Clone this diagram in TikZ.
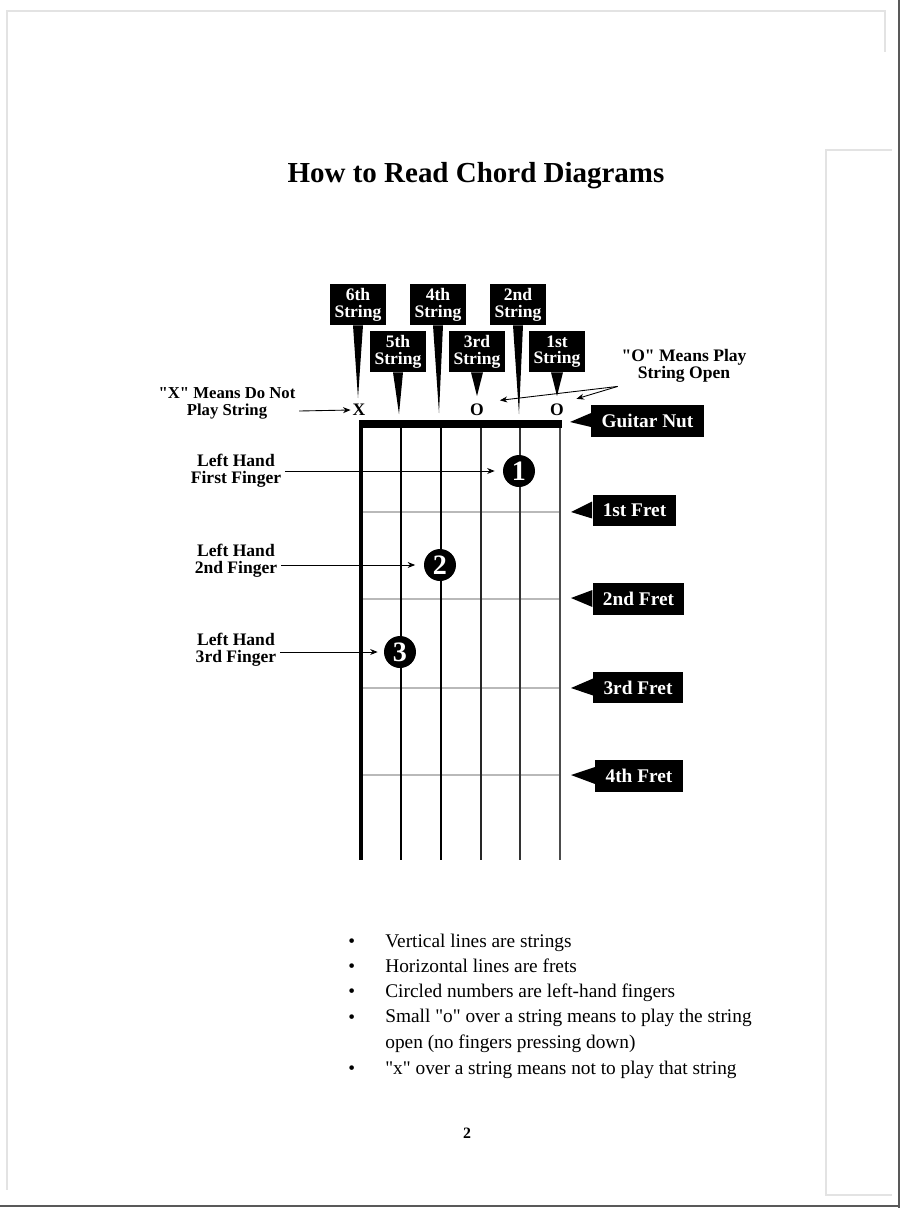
\documentclass[tikz,border=0pt]{standalone}
\usepackage{fontspec}
\setmainfont{Liberation Serif}[Ligatures=TeXOff]
\usetikzlibrary{arrows.meta}

\tikzset{
  tag/.style={fill=black, text=white, font=\bfseries\fontsize{10}{9.5}\selectfont, align=center, inner sep=0pt, minimum width=1.14cm, minimum height=0.82cm},
  fretbox/.style={fill=black, text=white, font=\bfseries\fontsize{11}{12}\selectfont, inner xsep=5.8pt, inner ysep=0pt, minimum height=0.63cm},
  side/.style={font=\bfseries\fontsize{10}{9.7}\selectfont, align=center, inner sep=2pt},
  openmark/.style={font=\bfseries\fontsize{10}{10}\selectfont, inner sep=1pt},
  finger/.style={circle, fill=black, text=white, minimum size=0.64cm, inner sep=0pt, font=\bfseries\fontsize{16}{16}\selectfont},
  arr/.style={-{Stealth[length=1.5mm,width=1.2mm]}, line width=0.5pt},
  bulletline/.style={anchor=base west, font=\fontsize{11}{14.5}\selectfont, inner sep=0pt, align=left},
  scanline/.style={gray!22, line width=0.04cm}
}

\begin{document}
\begin{tikzpicture}[x=0.02cm, y=-0.02cm]
        \useasboundingbox (0,0) rectangle (900,1208);
        % scanned page edges
        \draw[scanline] (7,1190) -- (7,11) -- (885,11) -- (885,52);
        \draw[scanline] (892,150) -- (826,150) -- (826,1195) -- (892,1195);
        \draw[black!65, line width=0.05cm] (0,1206) -- (900,1206);
        \draw[black!65, line width=0.05cm] (899,0) -- (899,1208);

        \node[font=\bfseries\fontsize{16.5}{20}\selectfont, anchor=base] (title) at (476,182) {How to Read Chord Diagrams};

        % frets
        \draw[gray!55, line width=0.035cm] (361,512) -- (560,512);
        \draw[gray!55, line width=0.035cm] (361,599) -- (560,599);
        \draw[gray!55, line width=0.035cm] (361,688) -- (560,688);
        \draw[gray!55, line width=0.035cm] (361,775) -- (560,775);

        % strings and nut
        \draw[line width=1.8pt] (361,424) -- (361,860);
        \draw[line width=1.7pt] (401,424) -- (401,860);
        \draw[line width=1.6pt] (441,424) -- (441,860);
        \draw[line width=1.4pt, black!85] (481,424) -- (481,860);
        \draw[line width=1.3pt, black!80] (520,424) -- (520,860);
        \draw[line width=1.1pt, black!70] (560,424) -- (560,860);
        \draw[line width=0.16cm] (359,424) -- (562,424);

        % string tags
        \node[tag] (s6) at (358,304.5) {6th\\String};
        \node[tag] (s5) at (398,351.5) {5th\\String};
        \node[tag] (s4) at (438,304.5) {4th\\String};
        \node[tag] (s3) at (477,351.5) {3rd\\String};
        \node[tag] (s2) at (518,304.5) {2nd\\String};
        \node[tag] (s1) at (557,351.5) {1st\\String};
        \coordinate (t6) at (358,398);
        \coordinate (t5) at (399,414);
        \coordinate (t4) at (439,413);
        \coordinate (t3) at (477,396);
        \coordinate (t2) at (519,414);
        \coordinate (t1) at (557,396);
        \fill ([xshift=-0.1cm]s6.south) -- (t6) -- ([xshift=0.1cm]s6.south) -- cycle;
        \fill ([xshift=-0.1cm]s5.south) -- (t5) -- ([xshift=0.1cm]s5.south) -- cycle;
        \fill ([xshift=-0.1cm]s4.south) -- (t4) -- ([xshift=0.1cm]s4.south) -- cycle;
        \fill ([xshift=-0.12cm]s3.south) -- (t3) -- ([xshift=0.12cm]s3.south) -- cycle;
        \fill ([xshift=-0.1cm]s2.south) -- (t2) -- ([xshift=0.1cm]s2.south) -- cycle;
        \fill ([xshift=-0.12cm]s1.south) -- (t1) -- ([xshift=0.12cm]s1.south) -- cycle;

        % open / muted marks
        \node[openmark] (xmark) at (359,410) {X};
        \node[openmark] (o3) at (477,410) {O};
        \node[openmark] (o1) at (557,410) {O};
        \node[side, font=\bfseries\fontsize{9.5}{9.7}\selectfont] (xlab) at (227,403) {"X" Means Do Not\\Play String};
        \node[side] (olab) at (684,366) {"O" Means Play\\String Open};
        \draw[arr] ([yshift=-0.16cm]xlab.east) -- (xmark.west);
        \draw[arr, shorten >=0.28cm] (olab.south west) -- (o3.north east);
        \draw[arr, shorten >=0.22cm] (olab.south west) -- (o1.north east);

        % nut and fret tags
        \node[fretbox] (nut) at (647.5,421) {Guitar Nut};
        \node[fretbox] (f1) at (634.5,510.5) {1st Fret};
        \node[fretbox] (f2) at (638.5,599) {2nd Fret};
        \node[fretbox] (f3) at (638,687.5) {3rd Fret};
        \node[fretbox] (f4) at (639,776) {4th Fret};
        \coordinate (tn) at (570,422);
        \coordinate (tf1) at (571,512);
        \coordinate (tf2) at (571,598);
        \coordinate (tf3) at (571,688);
        \coordinate (tf4) at (571,775);
        \fill ([yshift=0.16cm]nut.west) -- (tn) -- ([yshift=-0.12cm]nut.west) -- cycle;
        \fill ([yshift=0.18cm]f1.west) -- (tf1) -- ([yshift=-0.16cm]f1.west) -- cycle;
        \fill ([yshift=0.18cm]f2.west) -- (tf2) -- ([yshift=-0.16cm]f2.west) -- cycle;
        \fill ([yshift=0.18cm]f3.west) -- (tf3) -- ([yshift=-0.16cm]f3.west) -- cycle;
        \fill ([yshift=0.18cm]f4.west) -- (tf4) -- ([yshift=-0.16cm]f4.west) -- cycle;

        % fingers
        \node[finger] (c1) at (519,471) {1};
        \node[finger] (c2) at (440,565) {2};
        \node[finger] (c3) at (400,652) {3};
        \node[side] (lab1) at (236,470.5) {Left Hand\\First Finger};
        \node[side] (lab2) at (236,561) {Left Hand\\2nd Finger};
        \node[side] (lab3) at (236,649.5) {Left Hand\\3rd Finger};
        \draw[arr, shorten >=0.16cm] (lab1.east |- c1) -- (c1.west);
        \draw[arr, shorten >=0.17cm] (lab2.east |- c2) -- (c2.west);
        \draw[arr, shorten >=0.12cm] (lab3.east |- c3) -- (c3.west);

        % notes
        \node[bulletline] (d1) at (348,947) {•};
        \node[bulletline] (d2) at (348,972) {•};
        \node[bulletline] (d3) at (348,997) {•};
        \node[bulletline] (d4) at (348,1023) {•};
        \node[bulletline] (d5) at (348,1074) {•};
        \node[bulletline] (n1) at (385,947) {Vertical lines are strings};
        \node[bulletline] (n2) at (385,972) {Horizontal lines are frets};
        \node[bulletline] (n3) at (385,997) {Circled numbers are left-hand fingers};
        \node[bulletline] (n4) at (385,1048) {Small "o" over a string means to play the string\\open (no fingers pressing down)};
        \node[bulletline] (n5) at (385,1074) {"x" over a string means not to play that string};

        \node[font=\bfseries\fontsize{9}{10}\selectfont] (pagenum) at (467,1133) {2};
    \end{tikzpicture}
\end{document}
